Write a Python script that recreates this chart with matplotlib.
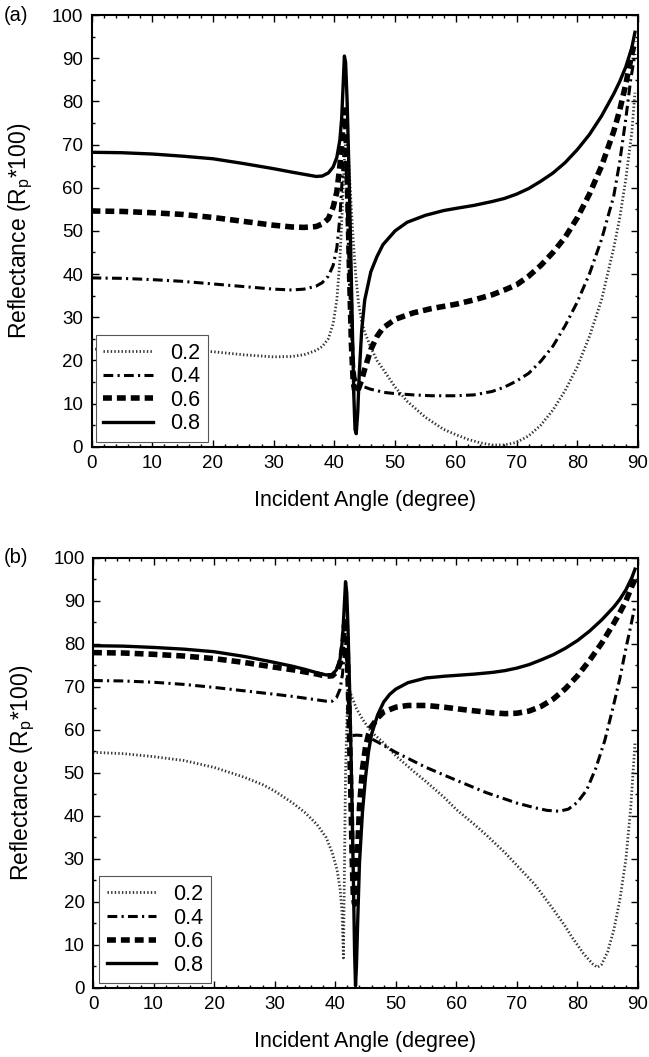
import matplotlib
matplotlib.use("Agg")
import matplotlib.pyplot as plt
from matplotlib.ticker import MultipleLocator

plt.rcParams['font.family'] = ['Liberation Sans', 'DejaVu Sans']

labels = ['0.2', '0.4', '0.6', '0.8']

# ---- panel (a) ----
a02_x = [0, 10, 20, 25, 30, 33, 35, 37, 38, 39, 39.8, 40.4, 40.9, 41.3, 41.6, 41.9, 42.2, 42.6, 43.0, 43.5,
         44, 44.5, 45, 46, 47, 48, 50, 52, 55, 58, 60, 62, 64, 66, 68, 70, 72, 74, 76, 78, 80, 82, 84, 86,
         87, 88, 89, 89.5]
a02_y = [22.6, 22.5, 22.0, 21.3, 20.8, 20.9, 21.3, 22.3, 23.2, 25, 28.5, 34, 43, 55, 65, 72, 70, 60, 50, 40,
         33, 29, 26.5, 23, 20, 18, 13.8, 10.5, 6.8, 4, 2.8, 1.7, 0.9, 0.4, 0.4, 1, 2.5, 5, 8.5, 13, 18.5, 25.5,
         34, 46, 53, 62, 73, 82]

a04_x = [0, 5, 10, 15, 20, 25, 30, 33, 35, 37, 38, 39, 39.8, 40.4, 40.9, 41.2, 41.5, 41.7, 41.9, 42.2, 42.5,
         42.8, 43.1, 43.4, 43.8, 44.5, 45, 46, 47, 48, 50, 53, 56, 60, 63, 66, 68, 70, 72, 74, 76, 78, 80, 82,
         84, 86, 87, 88, 88.8, 89.5]
a04_y = [39.1, 39.0, 38.7, 38.3, 37.7, 37.1, 36.5, 36.3, 36.5, 37.2, 38, 39.5, 42, 46, 53, 60, 67, 69, 66, 52,
         38, 27, 20, 16, 14.5, 14, 13.8, 13.3, 13, 12.6, 12.3, 12, 11.8, 11.8, 12, 12.8, 13.8, 15.2, 17, 19.8,
         23.3, 28, 33.5, 40, 48, 58, 66, 76, 85, 91]

a06_x = [0, 5, 10, 15, 20, 25, 30, 33, 35, 37, 38, 39, 39.8, 40.4, 40.9, 41.2, 41.5, 41.7, 41.9, 42.2, 42.5,
         42.8, 43.1, 43.4, 43.7, 44.0, 44.5, 45, 46, 47, 48, 50, 53, 56, 60, 63, 66, 68, 70, 72, 74, 76, 78,
         80, 82, 84, 86, 87, 88, 89, 89.5]
a06_y = [54.6, 54.5, 54.2, 53.8, 53.1, 52.2, 51.3, 50.9, 50.8, 51.0, 51.6, 52.8, 55.5, 59, 65, 70, 76, 78, 74,
         58, 40, 24, 15, 12.5, 12.5, 13.5, 15.5, 18, 22.5, 25.5, 27.5, 29.5, 31, 32, 33, 34, 35.2, 36.3, 37.5,
         39.5, 42, 45, 48.5, 53, 58.5, 65, 73, 78, 84, 91, 94]

a08_x = [0, 5, 10, 15, 20, 25, 30, 33, 35, 37, 38, 39, 39.8, 40.4, 40.9, 41.2, 41.45, 41.65, 41.85, 42.1, 42.4,
         42.7, 43.0, 43.2, 43.4, 43.6, 43.85, 44.1, 44.5, 45, 46, 47, 48, 50, 52, 55, 58, 60, 63, 66, 68, 70,
         72, 74, 76, 78, 80, 82, 84, 86, 87, 88, 89, 89.5]
a08_y = [68.2, 68.1, 67.8, 67.3, 66.7, 65.6, 64.4, 63.6, 63.1, 62.6, 62.7, 63.4, 64.8, 67, 71, 76, 84, 90.5,
         89, 80, 64, 45, 25, 12, 4, 3, 8, 17, 27, 34, 40.5, 44, 46.8, 50, 52, 53.6, 54.7, 55.2, 55.9, 56.8,
         57.5, 58.5, 59.8, 61.5, 63.4, 65.8, 68.8, 72.3, 76.6, 81.7, 84.6, 88, 92.5, 96]

# ---- panel (b) ----
b02_x = [0, 5, 10, 15, 20, 25, 28, 30, 33, 35, 37, 38.5, 39.5, 40.3, 40.8, 41.1, 41.3, 41.35, 41.5, 41.7,
         42.0, 42.4, 42.8, 43.5, 44.5, 46, 48, 50, 53, 55, 58, 60, 63, 65, 68, 70, 73, 76, 78, 79, 80, 81,
         82.5, 83.3, 84, 85, 86, 87, 88, 88.8, 89.5]
b02_y = [54.8, 54.5, 53.8, 52.9, 51.3, 49, 47.3, 45.8, 43, 40.8, 38, 35, 31.5, 27.5, 23, 18, 10, 7, 25, 50,
         66, 69, 67.5, 65, 62.5, 59.5, 57, 54, 50.3, 48, 44.3, 41.5, 38, 35.5, 31.5, 28.5, 24, 18.3, 14.3, 12,
         10, 8, 5.6, 4.8, 5.5, 8.5, 13.5, 20.5, 30, 42, 57]

b04_x = [0, 5, 10, 15, 20, 25, 30, 33, 35, 37, 38.5, 39.5, 40.2, 40.8, 41.2, 41.5, 41.7, 41.9, 42.2, 42.5,
         42.8, 43.5, 44.5, 45.5, 47, 50, 55, 60, 65, 70, 73, 75, 77, 78.5, 80, 81.5, 83, 84.5, 86, 87, 88, 89,
         89.5]
b04_y = [71.5, 71.4, 71.1, 70.6, 69.9, 69.1, 68.3, 67.8, 67.4, 67, 66.7, 66.7, 67.5, 69.5, 73, 78, 79.5, 76,
         66, 59.5, 58.7, 58.8, 58.7, 58.3, 57.2, 54.8, 51.3, 48.3, 45.4, 43, 41.9, 41.3, 41.1, 41.6, 43.2, 46,
         51, 57.5, 66, 72, 79, 85.5, 89]

b06_x = [0, 5, 10, 15, 20, 25, 30, 33, 35, 37, 38.5, 39.5, 40.2, 40.8, 41.2, 41.5, 41.7, 41.9, 42.2, 42.5,
         42.8, 43.0, 43.2, 43.4, 43.7, 44.0, 44.5, 45, 45.5, 46, 47, 48, 50, 52, 55, 58, 62, 66, 68, 70, 72,
         74, 76, 78, 80, 82, 84, 86, 87, 88, 89, 89.5]
b06_y = [78, 77.9, 77.6, 77.2, 76.6, 75.7, 74.6, 74, 73.5, 73, 72.5, 72.6, 73.5, 75.5, 79, 84, 86, 82, 68, 50,
         30, 21, 19.5, 22, 32, 42, 51, 56, 59, 60.8, 62.8, 64.2, 65.3, 65.7, 65.7, 65.3, 64.6, 64.0, 63.8,
         63.9, 64.4, 65.5, 67.2, 69.6, 72.6, 76.2, 80.2, 84.8, 87.3, 90, 93.5, 95]

b08_x = [0, 5, 10, 15, 20, 25, 30, 33, 35, 37, 38.5, 39.5, 40.2, 40.8, 41.2, 41.5, 41.7, 41.9, 42.1, 42.4,
         42.7, 43.0, 43.2, 43.35, 43.5, 43.7, 44.0, 44.5, 45, 45.5, 46, 47, 48, 49, 50, 52, 55, 58, 60, 63,
         66, 68, 70, 72, 74, 76, 78, 80, 82, 84, 86, 87, 88, 89, 89.5]
b08_y = [79.6, 79.5, 79.2, 78.8, 78.2, 77.1, 75.7, 74.8, 74.1, 73.3, 72.8, 72.9, 74, 76.5, 81, 89, 94.5, 92,
         84, 68, 48, 25, 8, 0.5, 5, 15, 29, 41, 49, 55, 59, 63.5, 66.5, 68.3, 69.5, 71, 72.1, 72.5, 72.7, 73,
         73.4, 73.8, 74.4, 75.2, 76.3, 77.5, 79, 80.8, 83, 85.6, 88.6, 90.4, 92.6, 95.5, 97.4]

styles = [
    dict(linestyle=(0, (0.5, 0.8)), linewidth=2.0, color='#333333'),
    dict(linestyle=(0, (3.2, 1.4, 0.7, 1.4)), linewidth=2.2, color='black'),
    dict(linestyle=(0, (1.6, 0.9)), linewidth=4.0, color='black'),
    dict(linestyle='-', linewidth=2.4, color='black'),
]

fig = plt.figure(figsize=(6.49, 10.57), dpi=100)
ax_a = fig.add_axes([0.141, 0.5774, 0.842, 0.4084])
ax_b = fig.add_axes([0.1433, 0.0653, 0.8398, 0.4068])

panels = [
    (ax_a, [(a02_x, a02_y), (a04_x, a04_y), (a06_x, a06_y), (a08_x, a08_y)], (0.008, 0.011), '(a)', 0.9858),
    (ax_b, [(b02_x, b02_y), (b04_x, b04_y), (b06_x, b06_y), (b08_x, b08_y)], (0.0115, 0.011), '(b)', 0.4721),
]

for ax, series, anchor, tag, tag_y in panels:
    for (xs, ys), lab, st in zip(series, labels, styles):
        ax.plot(xs, ys, label=lab, **st)
    ax.set_xlim(0, 90)
    ax.set_ylim(0, 100)
    ax.xaxis.set_major_locator(MultipleLocator(10))
    ax.xaxis.set_minor_locator(MultipleLocator(2))
    ax.yaxis.set_major_locator(MultipleLocator(10))
    ax.yaxis.set_minor_locator(MultipleLocator(5))
    ax.tick_params(which='both', direction='in', top=True, right=True, width=1.0, labelsize=13.5)
    ax.tick_params(which='major', length=5, pad=6)
    ax.tick_params(which='minor', length=2.5)
    for sp in ax.spines.values():
        sp.set_linewidth(1.5)
    ax.set_xlabel('Incident Angle (degree)', fontsize=15.5)
    ax.set_ylabel('Reflectance (R$_\\mathregular{p}$*100)', fontsize=16.5)
    ax.xaxis.set_label_coords(0.5, -0.1)
    ax.yaxis.set_label_coords(-0.103, 0.5)
    leg = ax.legend(loc='lower left', bbox_to_anchor=anchor, borderaxespad=0, fontsize=15.5,
                    handlelength=2.3, handletextpad=0.8, labelspacing=0.12, borderpad=0.35,
                    fancybox=False, framealpha=1, edgecolor='#555555')
    leg.get_frame().set_linewidth(0.8)
    fig.text(0.006, tag_y, tag, fontsize=14.5, va='center', ha='left')

fig.savefig('out.png', dpi=100)
